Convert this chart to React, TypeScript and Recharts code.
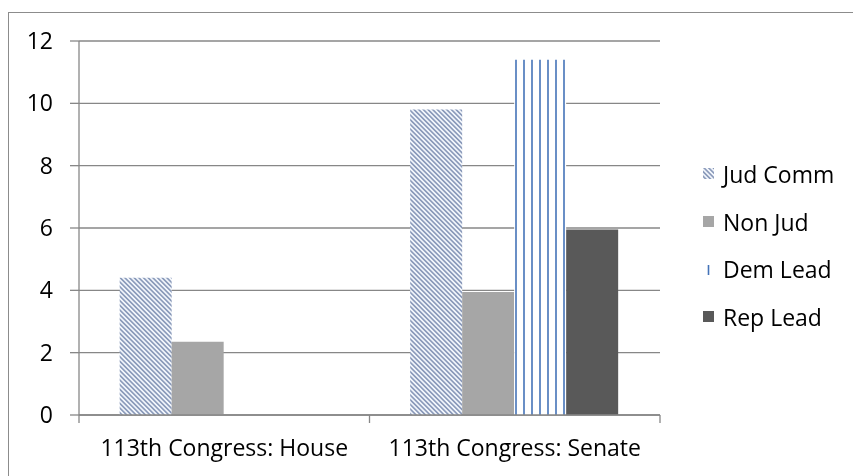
import React from "react";
import { BarChart, Bar, XAxis, YAxis, CartesianGrid } from "recharts";

const categories = ["113th Congress: House", "113th Congress: Senate"];
const judComm = [4.4, 9.8];
const nonJud = [2.35, 3.95];
const demLead = [null, 11.4];
const repLead = [null, 5.95];
const yTicks = [0, 2, 4, 6, 8, 10, 12];

const series = [
  { key: "judComm", name: "Jud Comm", fill: "url(#hatch-jud)", values: judComm },
  { key: "nonJud", name: "Non Jud", fill: "#a6a6a6", values: nonJud },
  { key: "demLead", name: "Dem Lead", fill: "url(#stripe-dem)", values: demLead },
  { key: "repLead", name: "Rep Lead", fill: "#595959", values: repLead },
];

const rows = categories.map((name, i) => {
  const r: any = { name };
  series.forEach((s) => (r[s.key] = s.values[i]));
  return r;
});

const W = 837;
const H = 460;
const margin = { top: 33, right: 185, left: 0, bottom: 13 };
const Y_W = 71;
const plotW = W - margin.left - margin.right - Y_W;
const halfBand = plotW / categories.length / 2;
const TICK_SIZE = 8;
const TICK_MARGIN = 17;
const FONT = "'Open Sans', sans-serif";
const FS = 23;
const axisColor = "#878787";

function CategoryTick(props: any) {
  const { x, y, payload, index } = props;
  const axisY = y - TICK_SIZE - TICK_MARGIN;
  const last = index === categories.length - 1;
  return (
    <g>
      <line x1={x - halfBand} x2={x - halfBand} y1={axisY} y2={axisY + TICK_SIZE} stroke={axisColor} strokeWidth={1.3} />
      {last && (
        <line x1={x + halfBand} x2={x + halfBand} y1={axisY} y2={axisY + TICK_SIZE} stroke={axisColor} strokeWidth={1.3} />
      )}
      <text x={x} y={y} dy="0.71em" textAnchor="middle" fill="#000" fontSize={FS} fontFamily={FONT}>
        {payload.value}
      </text>
    </g>
  );
}

function Patterns({ prefix = "" }: { prefix?: string }) {
  return (
    <defs>
      <pattern id={prefix + "hatch-jud"} width="3.3" height="3.3" patternUnits="userSpaceOnUse" patternTransform="rotate(-45)">
        <rect width="3.3" height="3.3" fill="#f1f5fb" />
        <line x1="0.8" y1="0" x2="0.8" y2="3.3" stroke="#7688ad" strokeWidth="1.35" />
      </pattern>
      <pattern id={prefix + "stripe-dem"} width="8" height="8" patternUnits="userSpaceOnUse">
        <rect width="8" height="8" fill="#ffffff" />
        <line x1="4" y1="0" x2="4" y2="8" stroke="#4473b8" strokeWidth="1.6" />
      </pattern>
    </defs>
  );
}

function LegendIcon({ fill, idx }: { fill: string; idx: number }) {
  const f = fill.startsWith("url(#") ? fill.replace("url(#", "url(#lg-") : fill;
  return (
    <svg width={11} height={11} style={{ display: "block" }}>
      <Patterns prefix="lg-" />
      <rect x={0} y={0} width={11} height={11} fill={idx === 2 ? "#ffffff" : f} />
      {idx === 2 && <line x1={5.5} y1={1} x2={5.5} y2={11} stroke="#4473b8" strokeWidth={1.6} />}
    </svg>
  );
}

export default function App() {
  return (
    <div style={{ position: "relative", width: W, height: H, fontFamily: FONT }}>
      <div
        style={{
          position: "fixed",
          left: 8,
          top: 12,
          width: 2000,
          height: 2000,
          borderLeft: "1px solid #8c8c8c",
          borderTop: "1px solid #8c8c8c",
          pointerEvents: "none",
        }}
      />
      <BarChart width={W} height={H} data={rows} margin={margin} barCategoryGap="14%" barGap={0}>
        <Patterns />
        <CartesianGrid horizontal vertical={false} stroke={axisColor} strokeWidth={1.3} />
        <XAxis
          dataKey="name"
          height={40}
          axisLine={{ stroke: axisColor, strokeWidth: 1.3 }}
          tickLine={false}
          tickSize={TICK_SIZE}
          tickMargin={TICK_MARGIN}
          tick={<CategoryTick />}
          interval={0}
        />
        <YAxis
          width={Y_W}
          domain={[0, 12]}
          ticks={yTicks}
          interval={0}
          axisLine={{ stroke: axisColor, strokeWidth: 1.3 }}
          tickLine={{ stroke: axisColor, strokeWidth: 1.3 }}
          tickSize={9}
          tickMargin={17}
          tick={{ fill: "#000", fontSize: FS, fontFamily: FONT }}
        />
        {series.map((s) => (
          <Bar key={s.key} dataKey={s.key} name={s.name} fill={s.fill} isAnimationActive={false} />
        ))}
      </BarChart>
      <div style={{ position: "absolute", left: 695, top: 142 }}>
        {series.map((s, i) => (
          <div key={s.key} style={{ display: "flex", alignItems: "center", height: 47.7 }}>
            <LegendIcon fill={s.fill} idx={i} />
            <span style={{ marginLeft: 9, fontSize: FS, color: "#000", lineHeight: "24px" }}>{s.name}</span>
          </div>
        ))}
      </div>
    </div>
  );
}
